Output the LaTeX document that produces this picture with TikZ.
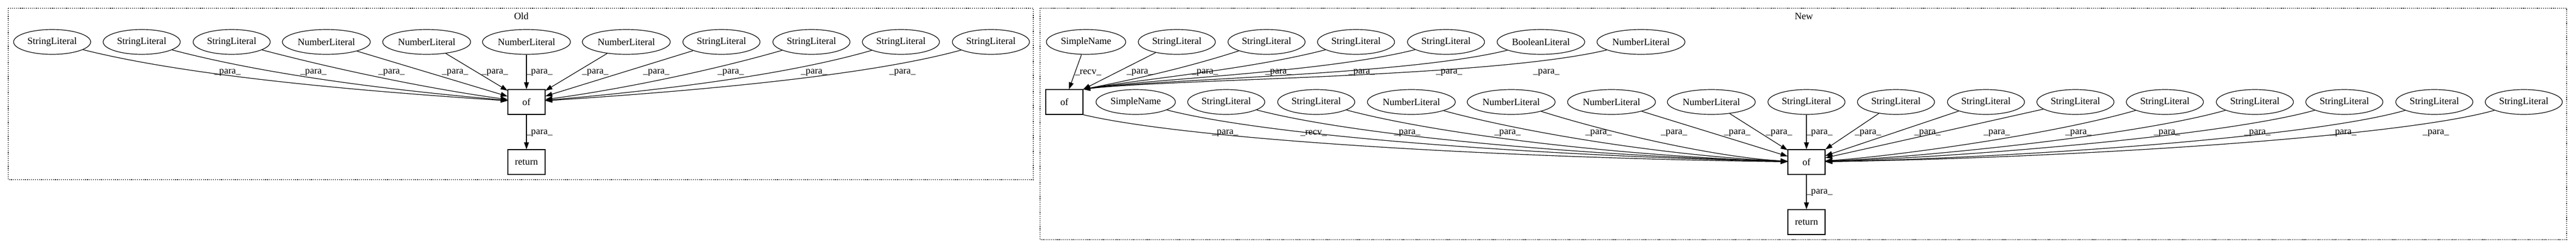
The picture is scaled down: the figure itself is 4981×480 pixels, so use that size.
\documentclass[tikz,border=0pt]{standalone}
\usepackage{fontspec}
\setmainfont{Liberation Serif}
\usetikzlibrary{shapes.geometric,arrows.meta}
\begin{document}
\begin{tikzpicture}[x=0.75pt,y=-0.75pt,
  every node/.style={font=\fontsize{14}{16}\selectfont},
  lit/.style={draw, ellipse, line width=0.9pt, inner sep=0pt, minimum height=36pt},
  sl/.style={lit, minimum width=111.75pt},
  nl/.style={lit, minimum width=127.5pt},
  sn/.style={lit, minimum width=115pt},
  bl/.style={lit, minimum width=127pt},
  opbox/.style={draw, rectangle, line width=0.9pt, minimum width=54pt, minimum height=36pt, inner sep=0pt},
  conn/.style={draw, line width=0.9pt, -{Triangle[length=10pt,width=7pt]}},
  lab/.style={inner sep=0pt},
  cluster/.style={draw, dotted, line width=0.9pt}
]
\useasboundingbox (0,0) rectangle (4981,480);

% clusters
\draw[cluster] (16,16) rectangle (1998,347);
\node (oldlab) at (1008,31) {Old};
\draw[cluster] (2011,16) rectangle (4963,463);
\node (newlab) at (3488,31) {New};

% ---------------- Old ----------------
\node[sl] (o1) at (100.8,81) {StringLiteral};
\node[sl] (o2) at (274,81) {StringLiteral};
\node[sl] (o3) at (448,81) {StringLiteral};
\node[nl] (o4) at (631,81) {NumberLiteral};
\node[nl] (o5) at (825,81) {NumberLiteral};
\node[nl] (o6) at (1018,81) {NumberLiteral};
\node[nl] (o7) at (1211,81) {NumberLiteral};
\node[sl] (o8) at (1395,81) {StringLiteral};
\node[sl] (o9) at (1569,81) {StringLiteral};
\node[sl] (o10) at (1742,81) {StringLiteral};
\node[sl] (o11) at (1916,81) {StringLiteral};
\node[opbox] (oof) at (1018,197) {of};
\node[opbox] (oret) at (1018,313) {return};

\draw[conn] (o1) .. controls (332,139) and (605,170) .. (oof);
\draw[conn] (o2) .. controls (495,139) and (709,170) .. (oof);
\draw[conn] (o3) .. controls (680,142) and (860,176) .. (oof);
\draw[conn] (o4) -- (oof);
\draw[conn] (o5) -- (oof);
\draw[conn] (o6) -- (oof);
\draw[conn] (o7) -- (oof);
\draw[conn] (o8) -- (oof);
\draw[conn] (o9) .. controls (1356,142) and (1176,176) .. (oof);
\draw[conn] (o10) .. controls (1541,139) and (1327,170) .. (oof);
\draw[conn] (o11) .. controls (1704,139) and (1431,170) .. (oof);
\draw[conn] (oof) -- (oret);

\foreach \x/\n in {440/1,606/2,757/3,880/4,957/5,1043/6,1151/7,1269/8,1413/9,1574/10,1745/11}
  \node[lab] (ol\n) at (\x,140) {\_para\_};
\node[lab] (olr) at (1043,257) {\_para\_};

% ---------------- New ----------------
\node[sn] (n1) at (2100,81) {SimpleName};
\node[sl] (n2) at (2275.5,81) {StringLiteral};
\node[sl] (n3) at (2449,81) {StringLiteral};
\node[sl] (n4) at (2622,81) {StringLiteral};
\node[sl] (n5) at (2796,81) {StringLiteral};
\node[bl] (n6) at (2979.5,81) {BooleanLiteral};
\node[nl] (n7) at (3173,81) {NumberLiteral};
\node[opbox] (nof1) at (2058,197) {of};

\node[sn] (m1) at (2196,197) {SimpleName};
\node[sl] (m2) at (2371,197) {StringLiteral};
\node[sl] (m3) at (2545,197) {StringLiteral};
\node[nl] (m4) at (2729,197) {NumberLiteral};
\node[nl] (m5) at (2922,197) {NumberLiteral};
\node[nl] (m6) at (3116,197) {NumberLiteral};
\node[nl] (m7) at (3309,197) {NumberLiteral};
\node[sl] (m8) at (3493,197) {StringLiteral};
\node[sl] (m9) at (3666,197) {StringLiteral};
\node[sl] (m10) at (3840,197) {StringLiteral};
\node[sl] (m11) at (4013,197) {StringLiteral};
\node[sl] (m12) at (4186,197) {StringLiteral};
\node[sl] (m13) at (4360,197) {StringLiteral};
\node[sl] (m14) at (4533,197) {StringLiteral};
\node[sl] (m15) at (4707,197) {StringLiteral};
\node[sl] (m16) at (4880,197) {StringLiteral};
\node[opbox] (nof2) at (3493,313) {of};
\node[opbox] (nret) at (3493,429) {return};

% edges into first of
\draw[conn] (n1) -- (nof1);
\draw[conn] (n2) -- (nof1.north east);
\draw[conn] (n3) .. controls (2300,129) and (2200,152) .. (nof1.north east);
\draw[conn] (n4) .. controls (2416,134) and (2215,152) .. (nof1.north east);
\draw[conn] (n5) .. controls (2560,140) and (2230,152) .. (nof1.north east);
\draw[conn] (n6) .. controls (2720,145) and (2250,152) .. (nof1.north east);
\draw[conn] (n7) .. controls (2880,150) and (2270,152) .. (nof1.north east);

% edges into second of
\draw[conn] (nof1.south east) .. controls (2300,270) and (2900,305) .. (nof2);
\draw[conn] (m1) .. controls (2450,262) and (2950,300) .. (nof2);
\draw[conn] (m2) .. controls (2620,262) and (3050,300) .. (nof2);
\draw[conn] (m3) .. controls (2790,262) and (3150,302) .. (nof2);
\draw[conn] (m4) .. controls (2970,262) and (3250,303) .. (nof2);
\draw[conn] (m5) .. controls (3130,262) and (3330,305) .. (nof2);
\draw[conn] (m6) -- (nof2);
\draw[conn] (m7) -- (nof2);
\draw[conn] (m8) -- (nof2);
\draw[conn] (m9) -- (nof2);
\draw[conn] (m10) -- (nof2);
\draw[conn] (m11) -- (nof2);
\draw[conn] (m12) .. controls (3960,262) and (3650,303) .. (nof2);
\draw[conn] (m13) .. controls (4130,262) and (3720,303) .. (nof2);
\draw[conn] (m14) .. controls (4300,262) and (3800,303) .. (nof2);
\draw[conn] (m15) .. controls (4470,265) and (3900,305) .. (nof2);
\draw[conn] (m16) .. controls (4640,265) and (4000,305) .. (nof2);
\draw[conn] (nof2) -- (nret);

% labels, top row of New
\node[lab] (nlr) at (2104,140) {\_recv\_};
\foreach \x/\n in {2204/2,2330/3,2472/4,2633/5,2802/6,2990/7}
  \node[lab] (nl\n) at (\x,140) {\_para\_};
% labels, second row of New
\node[lab] (ml0) at (2369,257) {\_para\_};
\node[lab] (mlr) at (2540,257) {\_recv\_};
\foreach \x/\n in {2721/2,2915/3,3091/4,3237/5,3359/6,3440/7,3518/8,3612/9,3727/10,3861/11,4019/12,4190/13,4365/14,4531/15,4710/16}
  \node[lab] (ml\n) at (\x,257) {\_para\_};
\node[lab] (mlret) at (3518,372) {\_para\_};
\end{tikzpicture}
\end{document}
